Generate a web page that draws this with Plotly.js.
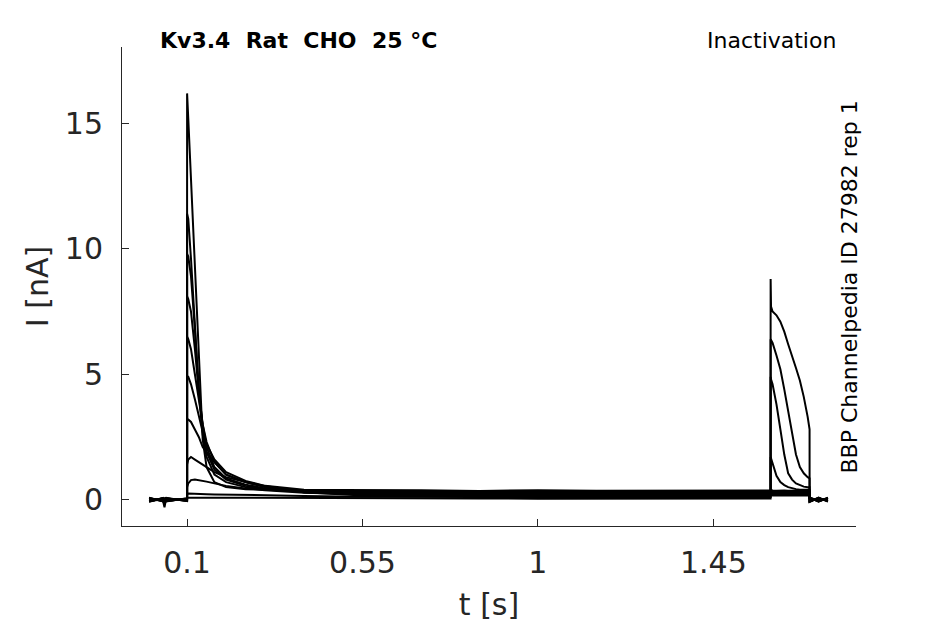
<!DOCTYPE html>
<html>
<head>
<meta charset="utf-8">
<script src="https://cdn.plot.ly/plotly-3.0.1.min.js"></script>
<style>
  html, body { margin: 0; padding: 0; background: white; }
  #plot { width: 945px; height: 624px; }
</style>
</head>
<body>
<div id="plot"></div>
<script>
// sample times [s], shared by all sweeps
const tSec = [
  0.0025, 0.038, 0.042, 0.046, 0.0999,
  0.1, 0.103, 0.11, 0.12, 0.13,
  0.14, 0.15, 0.17, 0.2, 0.25,
  0.3, 0.4, 0.55, 0.7, 0.85,
  1.0, 1.15, 1.3, 1.45, 1.5969,
  1.597, 1.598, 1.602, 1.612, 1.622,
  1.632, 1.642, 1.652, 1.662, 1.672,
  1.682, 1.692, 1.6969, 1.697, 1.72,
  1.744,
];

// current [nA] per sweep
const sweep1 = [0.03, -0.02, -0.3, 0.02, 0.01, 16.2, 15.2, 12.7, 9.2, 5.7, 2.4, 1.3, 0.7, 0.5, 0.42, 0.4, 0.4, 0.37, 0.38, 0.35, 0.38, 0.36, 0.37, 0.35, 0.36, 0.37, 0.39, 0.37, 0.36, 0.38, 0.37, 0.36, 0.37, 0.38, 0.36, 0.37, 0.36, 0.37, 0.05, -0.03, 0.02];
const sweep2 = [-0.03, 0.02, 0.0, -0.02, 0.0, 11.4, 11.2, 9.6, 7.0, 4.3, 2.6, 1.7, 1.0, 0.7, 0.5, 0.4, 0.34, 0.32, 0.33, 0.31, 0.34, 0.32, 0.33, 0.31, 0.33, 0.33, 0.34, 0.32, 0.33, 0.32, 0.33, 0.34, 0.32, 0.33, 0.32, 0.33, 0.32, 0.33, -0.04, 0.03, -0.02];
const sweep3 = [0.05, -0.03, -0.2, 0.04, -0.02, 9.8, 9.7, 8.9, 6.8, 4.4, 2.9, 1.9, 1.2, 0.8, 0.55, 0.42, 0.32, 0.29, 0.3, 0.28, 0.31, 0.29, 0.3, 0.28, 0.3, 0.29, 0.3, 0.29, 0.3, 0.28, 0.29, 0.3, 0.29, 0.3, 0.29, 0.28, 0.29, 0.3, 0.06, 0.0, 0.04];
const sweep4 = [-0.05, 0.04, 0.01, -0.04, 0.03, 8.1, 8.0, 7.5, 6.0, 4.3, 3.0, 2.1, 1.3, 0.85, 0.6, 0.45, 0.3, 0.26, 0.27, 0.25, 0.28, 0.26, 0.27, 0.25, 0.26, 0.26, 0.27, 0.26, 0.25, 0.26, 0.27, 0.26, 0.25, 0.26, 0.26, 0.25, 0.26, 0.26, -0.06, 0.05, -0.04];
const sweep5 = [0.07, -0.05, 0.02, 0.05, -0.04, 6.5, 6.4, 6.0, 5.0, 3.9, 3.0, 2.3, 1.5, 1.0, 0.7, 0.5, 0.3, 0.23, 0.24, 0.22, 0.25, 0.23, 0.24, 0.22, 0.23, 0.23, 0.24, 0.23, 0.22, 0.23, 0.24, 0.23, 0.22, 0.23, 0.23, 0.24, 0.23, 0.23, 0.07, -0.05, 0.06];
const sweep6 = [-0.07, 0.06, -0.03, -0.06, 0.05, 4.9, 4.9, 4.6, 4.0, 3.3, 2.7, 2.2, 1.6, 1.1, 0.75, 0.55, 0.32, 0.2, 0.21, 0.19, 0.22, 0.2, 0.21, 0.19, 0.2, 0.2, 0.21, 0.2, 0.19, 0.2, 0.21, 0.2, 0.19, 0.2, 0.2, 0.21, 0.2, 0.2, -0.08, 0.06, -0.06];
const sweep7 = [0.08, -0.07, 0.03, 0.07, -0.06, 3.2, 3.2, 3.1, 2.8, 2.5, 2.1, 1.9, 1.5, 1.0, 0.7, 0.5, 0.3, 0.17, 0.18, 0.16, 0.19, 0.17, 0.18, 0.16, 0.17, 0.17, 0.18, 0.17, 0.16, 0.17, 0.18, 0.17, 0.16, 0.17, 0.17, 0.18, 0.17, 0.17, 0.09, -0.07, 0.08];
const sweep8 = [-0.08, 0.07, -0.04, -0.07, 0.06, 1.4, 1.6, 1.7, 1.6, 1.5, 1.4, 1.3, 1.1, 0.9, 0.7, 0.55, 0.4, 0.27, 0.26, 0.24, 0.26, 0.24, 0.25, 0.24, 0.25, 1.7, 1.65, 1.5, 0.95, 0.7, 0.58, 0.5, 0.45, 0.42, 0.4, 0.4, 0.4, 0.4, -0.09, 0.08, -0.07];
const sweep9 = [0.06, -0.06, 0.04, 0.06, -0.05, 0.5, 0.65, 0.78, 0.8, 0.78, 0.75, 0.72, 0.65, 0.55, 0.45, 0.38, 0.28, 0.2, 0.15, 0.14, 0.13, 0.14, 0.13, 0.14, 0.13, 4.9, 4.8, 4.6, 3.8, 2.8, 1.8, 1.05, 0.8, 0.65, 0.58, 0.52, 0.5, 0.5, 0.08, -0.08, 0.07];
const sweep10 = [-0.06, 0.05, -0.05, -0.05, 0.04, 0.2, 0.25, 0.25, 0.24, 0.24, 0.23, 0.22, 0.21, 0.2, 0.19, 0.18, 0.15, 0.12, 0.1, 0.11, 0.1, 0.11, 0.1, 0.1, 0.11, 6.4, 6.35, 6.25, 5.75, 5.2, 4.4, 3.5, 2.6, 1.8, 1.3, 1.05, 0.9, 0.85, -0.07, 0.07, -0.08];
const sweep11 = [0.04, -0.04, 0.05, 0.04, -0.03, 0.08, 0.08, 0.08, 0.08, 0.08, 0.07, 0.07, 0.07, 0.06, 0.06, 0.06, 0.05, 0.05, 0.05, 0.05, 0.04, 0.05, 0.05, 0.04, 0.05, 8.8, 7.7, 7.5, 7.35, 7.1, 6.7, 6.2, 5.75, 5.25, 4.75, 4.1, 3.3, 2.8, 0.06, -0.06, 0.05];

const sweeps = [sweep1, sweep2, sweep3, sweep4, sweep5, sweep6, sweep7, sweep8, sweep9, sweep10, sweep11];

const xTicks = [0.1, 0.55, 1, 1.45];
const xTickText = ["0.1", "0.55", "1", "1.45"];
const yTicks = [0, 5, 10, 15];

const axisColor = "#262626";
const font = "DejaVu Sans, sans-serif";

const data = sweeps.map((y) => ({
  x: tSec,
  y: y,
  type: "scatter",
  mode: "lines",
  line: { color: "black", width: 2 },
  hoverinfo: "skip",
  showlegend: false,
}));

const layout = {
  width: 945,
  height: 624,
  margin: { l: 122, r: 89, t: 47, b: 98 },
  paper_bgcolor: "white",
  plot_bgcolor: "white",
  font: { family: font, color: axisColor },
  xaxis: {
    range: [-0.067, 1.816],
    tickvals: xTicks,
    ticktext: xTickText,
    ticks: "inside",
    ticklen: 7,
    tickcolor: axisColor,
    tickfont: { size: 30, color: axisColor },
    ticklabelstandoff: 10,
    showline: true,
    linecolor: axisColor,
    linewidth: 1,
    showgrid: false,
    zeroline: false,
    title: { text: "t [s]", font: { size: 30, color: axisColor }, standoff: 14 },
  },
  yaxis: {
    range: [-1.05, 18.05],
    tickvals: yTicks,
    ticks: "inside",
    ticklen: 7,
    tickcolor: axisColor,
    tickfont: { size: 30, color: axisColor },
    ticklabelstandoff: 12,
    showline: true,
    linecolor: axisColor,
    linewidth: 1,
    showgrid: false,
    zeroline: false,
    title: { text: "I [nA]", font: { size: 30, color: axisColor }, standoff: 7 },
  },
  annotations: [
    {
      text: "<b>Kv3.4\u00a0\u00a0Rat\u00a0\u00a0CHO\u00a0\u00a025 °C</b>",
      xref: "paper", yref: "paper",
      x: 0.049, y: 1.0146,
      xanchor: "left", yanchor: "middle",
      showarrow: false,
      font: { family: font, size: 22, color: "black" },
    },
    {
      text: "Inactivation",
      xref: "paper", yref: "paper",
      x: 0.9755, y: 1.0146,
      xanchor: "right", yanchor: "middle",
      showarrow: false,
      font: { family: font, size: 22, color: "black" },
    },
    {
      text: "BBP Channelpedia ID 27982 rep 1",
      xref: "paper", yref: "paper",
      x: 0.9918, y: 0.5,
      xanchor: "center", yanchor: "middle",
      textangle: -90,
      showarrow: false,
      font: { family: font, size: 22, color: "black" },
    },
  ],
};

Plotly.newPlot("plot", data, layout, { staticPlot: true, displayModeBar: false });
</script>
</body>
</html>
